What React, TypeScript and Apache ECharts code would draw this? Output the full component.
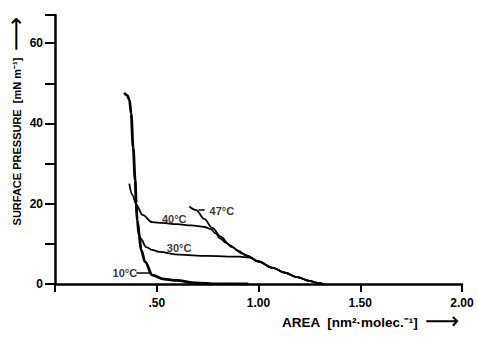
import React, { useEffect, useRef } from "react";
import * as echarts from "echarts";

// Axis ticks / labels
const xTickValues = [0, 0.5, 1.0, 1.5, 2.0];
const xTickLabels: Record<string, string> = { "0.5": ".50", "1": "1.00", "1.5": "1.50", "2": "2.00" };
const yTickValues = [0, 10, 20, 30, 40, 50, 60, 67];
const yLabelValues = [0, 20, 40, 60];
const xTitle = "AREA  [nm²·molec.⁻¹]";
const yTitle = "SURFACE PRESSURE  [mN m⁻¹]";
const arrow = "⟶";

// Isotherms: area (nm^2 / molecule) vs surface pressure (mN/m)
const area10 = [0.34, 0.355, 0.366, 0.374, 0.384, 0.394, 0.399, 0.404, 0.413, 0.423, 0.443, 0.478, 0.537, 0.596, 0.69, 0.8, 0.95];
const pres10 = [47.6, 47.0, 45.8, 42.5, 34, 25.9, 20, 15.9, 12.2, 8.5, 5.5, 2.2, 1.2, 0.9, 0.3, 0.05, 0];

const area30 = [0.399, 0.404, 0.42, 0.448, 0.478, 0.512, 0.61, 0.744, 0.906, 0.955, 1.0, 1.07, 1.13, 1.19, 1.25, 1.29, 1.32];
const pres30 = [20, 15.9, 11.4, 9.2, 8.5, 8.0, 7.3, 7.0, 6.8, 6.6, 5.6, 4.0, 2.8, 1.7, 0.8, 0.3, 0];

const area40 = [0.365, 0.38, 0.4, 0.43, 0.478, 0.527, 0.6, 0.67, 0.735, 0.765, 0.79, 0.81, 0.84, 0.87, 0.92, 0.955, 1.0, 1.07, 1.13, 1.19, 1.25, 1.29, 1.32];
const pres40 = [25, 22.2, 19.7, 17.2, 15.4, 15.2, 14.9, 14.6, 14.2, 13.7, 12.6, 11.4, 10.3, 9.2, 7.6, 6.7, 5.6, 4.0, 2.8, 1.7, 0.8, 0.3, 0];

const area47 = [0.66, 0.694, 0.733, 0.773, 0.815, 0.857, 0.9, 0.94, 1.0, 1.07, 1.13, 1.19, 1.25, 1.29, 1.32];
const pres47 = [19.3, 18.4, 16.2, 14.0, 11.8, 9.7, 8.3, 7.1, 5.6, 4.0, 2.8, 1.7, 0.8, 0.3, 0];

// Curve annotations (data coordinates)
const curveLabels = ["10°C", "30°C", "40°C", "47°C"];
const labelArea = [0.343, 0.61, 0.586, 0.82];
const labelPres = [2.7, 9.0, 16.3, 18.2];
// Leader lines for 10°C and 47°C: [x1, x2, y]
const leader10 = [0.40, 0.468, 2.9];
const leader47 = [0.705, 0.735, 18.4];

const zip = (xs: number[], ys: number[]) => xs.map((x, i) => [x, ys[i]]);

export default function App() {
  const ref = useRef<HTMLDivElement>(null);
  useEffect(() => {
    if (!ref.current) return;
    const chart = echarts.init(ref.current, null, { renderer: "svg" });
    const font = "'Liberation Sans', Arial, sans-serif";
    const lineBase = { type: "line", symbol: "none", smooth: 0.35, smoothMonotone: "x", silent: true };
    const titleRich = (size: number, arrowSize: number) => ({
      t: { fontFamily: font, fontWeight: "bold", fontSize: size, fill: "#000", verticalAlign: "middle" },
      a: { fontFamily: "'DejaVu Sans', sans-serif", fontSize: arrowSize, fill: "#000", verticalAlign: "middle", padding: [0, 0, 2, 0] },
    });
    chart.setOption({
      animation: false,
      backgroundColor: "#fff",
      grid: { left: 55, right: 16, top: 15, bottom: 54, containLabel: false },
      graphic: [
        {
          type: "text",
          x: 17,
          y: 121,
          rotation: Math.PI / 2,
          style: {
            text: `{t|${yTitle}}  {a|${arrow}}`,
            rich: titleRich(11, 24),
            align: "center",
            verticalAlign: "middle",
          },
        },
        {
          type: "text",
          x: 282,
          y: 322,
          style: {
            text: `{t|${xTitle}}  {a|${arrow}}`,
            rich: titleRich(13.5, 24),
            align: "left",
            verticalAlign: "middle",
          },
        },
      ],
      xAxis: {
        type: "value",
        min: 0,
        max: 2,
        interval: 0.5,
        axisLine: { onZero: false, lineStyle: { color: "#000", width: 2.5 } },
        axisTick: { show: true, length: 8, lineStyle: { color: "#000", width: 2 }, customValues: xTickValues },
        axisLabel: {
          fontFamily: font, fontWeight: "bold", fontSize: 12, color: "#000", margin: 13,
          formatter: (v: number) => xTickLabels[String(v)] ?? "",
        },
        splitLine: { show: false },
      },
      yAxis: {
        type: "value",
        min: 0,
        max: 67,
        interval: 10,
        axisLine: { onZero: false, lineStyle: { color: "#000", width: 2.5 } },
        axisTick: { show: true, length: 10, lineStyle: { color: "#000", width: 2 }, customValues: yTickValues },
        axisLabel: {
          fontFamily: font, fontWeight: "bold", fontSize: 12, color: "#000", margin: 12,
          customValues: yLabelValues,
        },
        splitLine: { show: false },
      },
      series: [
        { ...lineBase, name: "10°C", data: zip(area10, pres10), lineStyle: { color: "#000", width: 2.8 } },
        { ...lineBase, name: "30°C", data: zip(area30, pres30), lineStyle: { color: "#000", width: 1.8 } },
        { ...lineBase, name: "40°C", data: zip(area40, pres40), lineStyle: { color: "#000", width: 1.8 } },
        { ...lineBase, name: "47°C", data: zip(area47, pres47), lineStyle: { color: "#000", width: 1.8 } },
        {
          type: "scatter",
          symbolSize: 0,
          silent: true,
          data: curveLabels.map((t, i) => [labelArea[i], labelPres[i], t]),
          label: {
            show: true,
            position: "inside",
            formatter: (p: any) => p.data[2],
            fontFamily: font, fontWeight: "bold", fontSize: 11, color: "#000",
          },
          markLine: {
            silent: true,
            symbol: "none",
            label: { show: false },
            lineStyle: { color: "#000", width: 1.5, type: "solid" },
            data: [
              [{ coord: [leader10[0], leader10[2]] }, { coord: [leader10[1], leader10[2]] }],
              [{ coord: [leader47[0], leader47[2]] }, { coord: [leader47[1], leader47[2]] }],
            ],
          },
        },
      ],
    });
    return () => chart.dispose();
  }, []);
  return <div ref={ref} style={{ position: "fixed", left: 0, top: 0, width: 478, height: 338 }} />;
}
